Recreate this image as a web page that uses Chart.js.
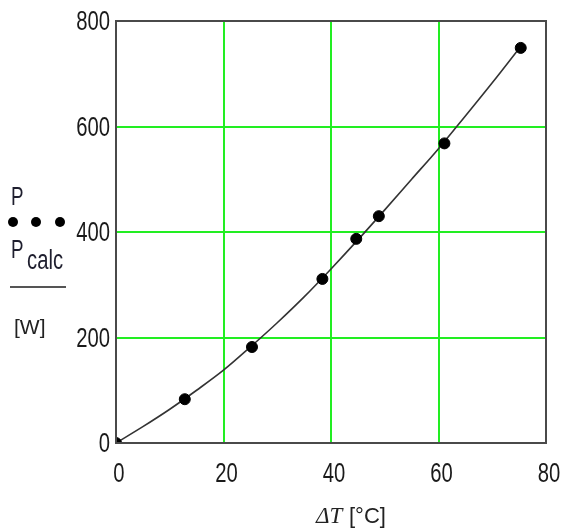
<!DOCTYPE html>
<html>
<head>
<meta charset="utf-8">
<script src="https://cdn.jsdelivr.net/npm/chart.js@4"></script>
<style>
  html, body { margin: 0; padding: 0; background: #fff; }
  #wrap { width: 564px; height: 531px; position: relative; }
</style>
</head>
<body>
<div id="wrap"><canvas id="myChart" width="564" height="531"></canvas></div>
<script>
// measured points (P)
const dT = [0, 12.8, 25.3, 38.4, 44.7, 48.9, 61.1, 75.3];
const P = [0, 83, 182, 311, 387, 430, 568, 749];

// calculated curve (P_calc)
const dTcalc = [0, 5, 10, 15, 20, 25, 30, 35, 40, 45, 50, 55, 60, 65, 70, 75];
const Pcalc = [0, 31, 64, 100, 138, 182, 228, 277, 330, 385, 442, 500, 558, 620, 683, 748];

const xTicks = [0, 20, 40, 60, 80];
const yTicks = [0, 200, 400, 600, 800];

const sansFont = "'Liberation Sans', Arial, sans-serif";

const toXY = (xs, ys) => xs.map((x, i) => ({ x: x, y: ys[i] }));

// condensed text, like the narrow font of the original
function narrowText(ctx, text, x, y, size, align) {
  ctx.save();
  ctx.font = size + 'px ' + sansFont;
  const w = ctx.measureText(text).width * 0.75;
  let left = x;
  if (align === 'right') left = x - w;
  if (align === 'center') left = x - w / 2;
  ctx.translate(left, y);
  ctx.scale(0.75, 1);
  ctx.textAlign = 'left';
  ctx.fillText(text, 0, 0);
  ctx.restore();
}

const extras = {
  id: 'extras',
  afterDatasetsDraw(chart) {
    const { ctx, chartArea: a } = chart;
    ctx.save();
    ctx.strokeStyle = '#4a4a4a';
    ctx.lineWidth = 2;
    ctx.strokeRect(a.left, a.top, a.right - a.left, a.bottom - a.top);
    ctx.restore();
  },
  afterDraw(chart) {
    const ctx = chart.ctx;
    const xs = chart.scales.x, ys = chart.scales.y;
    ctx.save();
    ctx.fillStyle = '#1a1a1a';
    ctx.textBaseline = 'middle';
    ys.ticks.forEach(t => narrowText(ctx, String(t.value), xs.left - 6, ys.getPixelForValue(t.value) + 2, 27, 'right'));
    ctx.textBaseline = 'alphabetic';
    xs.ticks.forEach(t => narrowText(ctx, String(t.value), xs.getPixelForValue(t.value) + 3, 482, 27, 'center'));

    // left legend
    ctx.fillStyle = '#1e1e2e';
    narrowText(ctx, 'P', 11, 205, 25, 'left');
    narrowText(ctx, 'P', 11, 258, 25, 'left');
    narrowText(ctx, 'calc', 27, 269, 27, 'left');
    ctx.fillStyle = '#000';
    [13, 36, 60].forEach(x => {
      ctx.beginPath();
      ctx.arc(x, 222, 5, 0, Math.PI * 2);
      ctx.fill();
    });
    ctx.strokeStyle = '#555';
    ctx.lineWidth = 2;
    ctx.beginPath();
    ctx.moveTo(10, 287);
    ctx.lineTo(66, 287);
    ctx.stroke();
    ctx.fillStyle = '#222';
    ctx.font = "21px " + sansFont;
    ctx.fillText('[W]', 14, 334);

    // x title
    ctx.font = "italic 23px 'Liberation Serif', serif";
    ctx.fillText('\u0394T', 316, 523);
    ctx.font = "22px " + sansFont;
    ctx.fillText('[\u00b0C]', 349, 523);
    ctx.restore();
  }
};

new Chart(document.getElementById('myChart').getContext('2d'), {
  type: 'scatter',
  data: {
    datasets: [
      {
        label: 'P',
        data: toXY(dT, P),
        backgroundColor: '#000',
        borderColor: '#000',
        pointRadius: 5.5,
        showLine: false,
      },
      {
        label: 'Pcalc',
        data: toXY(dTcalc, Pcalc),
        borderColor: '#333',
        borderWidth: 1.6,
        pointRadius: 0,
        showLine: true,
        cubicInterpolationMode: 'monotone',
      },
    ],
  },
  options: {
    responsive: false,
    animation: false,
    layout: { padding: { top: 21, right: 18, left: 0, bottom: 0 } },
    plugins: { legend: { display: false }, tooltip: { enabled: false } },
    scales: {
      x: {
        type: 'linear',
        min: 0,
        max: 80,
        afterBuildTicks: (s) => { s.ticks = xTicks.map(v => ({ value: v })); },
        afterFit: (s) => { s.height = 88; },
        grid: {
          drawTicks: false,
          lineWidth: 2,
          color: (c) => (c.tick && (c.tick.value === 0 || c.tick.value === 80)) ? 'rgba(0,0,0,0)' : '#22ee22',
        },
        border: { display: false },
        ticks: { display: false },
      },
      y: {
        type: 'linear',
        min: 0,
        max: 800,
        afterBuildTicks: (s) => { s.ticks = yTicks.map(v => ({ value: v })); },
        afterFit: (s) => { s.width = 116; },
        grid: {
          drawTicks: false,
          lineWidth: 2,
          color: (c) => (c.tick && (c.tick.value === 0 || c.tick.value === 800)) ? 'rgba(0,0,0,0)' : '#22ee22',
        },
        border: { display: false },
        ticks: { display: false },
      },
    },
  },
  plugins: [extras],
});
</script>
</body>
</html>
